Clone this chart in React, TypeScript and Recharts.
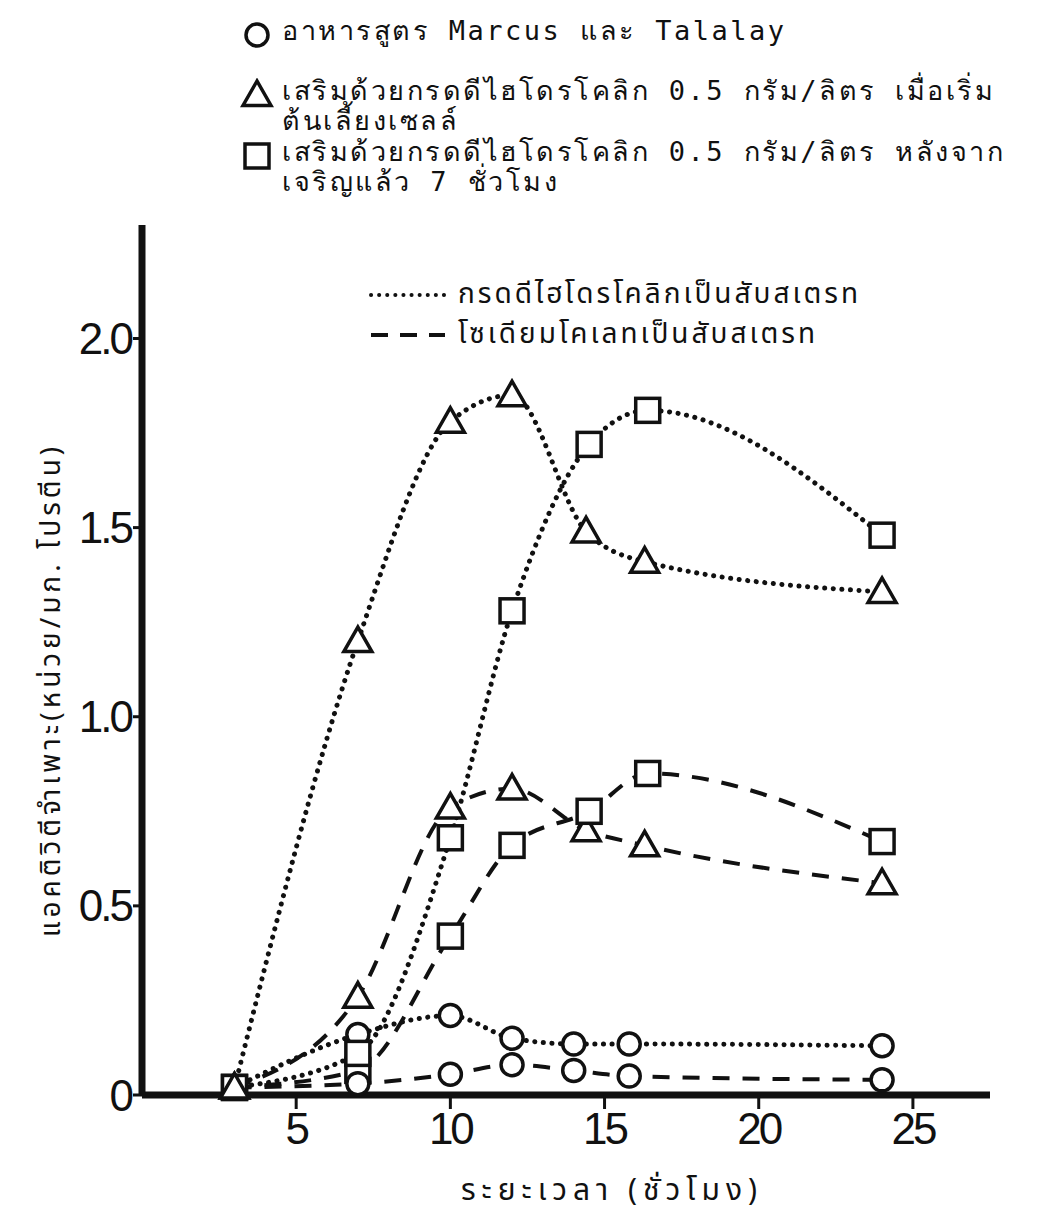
import React from 'react';
import { LineChart, Line, XAxis, YAxis } from 'recharts';

// Sampling times (hours) for each group of cultures
const circleHours = [3, 7, 10, 12, 14, 15.8, 24];
const triangleHours = [3, 7, 10, 12, 14.4, 16.3, 24];
const squareHours = [3, 7, 10, 12, 14.5, 16.4, 24];

// Specific activity (units/mg protein)
// ...with dehydrocholic acid as substrate (dotted)
const circleDehydro = [0.02, 0.16, 0.21, 0.15, 0.135, 0.135, 0.13];
const triangleDehydro = [0.02, 1.2, 1.78, 1.85, 1.49, 1.41, 1.33];
const squareDehydro = [0.02, 0.11, 0.68, 1.28, 1.72, 1.81, 1.48];
// ...with sodium cholate as substrate (dashed)
const circleCholate = [0.02, 0.03, 0.055, 0.08, 0.065, 0.05, 0.04];
const triangleCholate = [0.02, 0.26, 0.76, 0.81, 0.7, 0.66, 0.56];
const squareCholate = [0.02, 0.065, 0.42, 0.66, 0.75, 0.85, 0.67];

const xTicks = [5, 10, 15, 20, 25];
const yTicks = [0, 0.5, 1.0, 1.5, 2.0];

const mediumLabels = [
  ['อาหารสูตร Marcus และ Talalay'],
  ['เสริมด้วยกรดดีไฮโดรโคลิก 0.5 กรัม/ลิตร เมื่อเริ่ม', 'ต้นเลี้ยงเซลล์'],
  ['เสริมด้วยกรดดีไฮโดรโคลิก 0.5 กรัม/ลิตร หลังจาก', 'เจริญแล้ว 7 ชั่วโมง'],
];
const substrateLabels = ['กรดดีไฮโดรโคลิกเป็นสับสเตรท', 'โซเดียมโคเลทเป็นสับสเตรท'];
const xTitle = 'ระยะเวลา (ชั่วโมง)';
const yTitle = 'แอคติวิตีจำเพาะ(หน่วย/มก. โปรตีน)';

const zip = (hs: number[], vs: number[]) => hs.map((h, i) => ({ h, v: vs[i] }));

type Shape = 'circle' | 'triangle' | 'square';

const INK = '#111';
const DOTTED = '0.1 8.5';
const DASHED = '17 13';

const Marker = ({ shape, cx, cy }: { shape: Shape; cx: number; cy: number }) => {
  const sw = 3.5;
  if (shape === 'circle')
    return <circle cx={cx} cy={cy} r={11} fill="#fff" stroke={INK} strokeWidth={sw} />;
  if (shape === 'triangle') {
    const s = 14;
    const pts = `${cx},${cy - s} ${cx - s},${cy + s * 0.75} ${cx + s},${cy + s * 0.75}`;
    return <polygon points={pts} fill="#fff" stroke={INK} strokeWidth={sw} strokeLinejoin="miter" />;
  }
  return <rect x={cx - 12} y={cy - 12} width={24} height={24} fill="#fff" stroke={INK} strokeWidth={sw} />;
};

const dotFor = (shape: Shape, name: string) => (p: any) => (
  <Marker key={`${name}-${p.index}`} shape={shape} cx={p.cx} cy={p.cy} />
);

const series = [
  { name: 'tri-cholate', shape: 'triangle' as Shape, dash: DASHED, data: zip(triangleHours, triangleCholate) },
  { name: 'sq-cholate', shape: 'square' as Shape, dash: DASHED, data: zip(squareHours, squareCholate) },
  { name: 'circ-cholate', shape: 'circle' as Shape, dash: DASHED, data: zip(circleHours, circleCholate) },
  { name: 'circ-dehydro', shape: 'circle' as Shape, dash: DOTTED, data: zip(circleHours, circleDehydro) },
  { name: 'sq-dehydro', shape: 'square' as Shape, dash: DOTTED, data: zip(squareHours, squareDehydro) },
  { name: 'tri-dehydro', shape: 'triangle' as Shape, dash: DOTTED, data: zip(triangleHours, triangleDehydro) },
];

const tickFont = { fontFamily: '"Liberation Sans", Arial, sans-serif', fontSize: 44, fill: INK, letterSpacing: -3 };
const thaiFont = '"Noto Sans Thai", "Loma", "Garuda", "DejaVu Sans", sans-serif';
const typeFont = '"DejaVu Sans Mono", "Noto Sans Mono", monospace';

const LegendSymbol = ({ shape }: { shape: Shape }) => (
  <svg width={34} height={34} style={{ position: 'absolute', left: -42, top: 2 }}>
    <Marker shape={shape} cx={17} cy={17} />
  </svg>
);

export default function App() {
  return (
    <div style={{ position: 'absolute', left: 0, top: 0, width: 1064, height: 1228, background: '#fff', overflow: 'hidden' }}>
      <LineChart width={1064} height={1228} margin={{ top: 225, right: 74, bottom: 73, left: 2 }}>
        <XAxis
          dataKey="h"
          type="number"
          domain={[0, 27.5]}
          ticks={xTicks}
          allowDuplicatedCategory={false}
          height={60}
          axisLine={{ stroke: INK, strokeWidth: 7 }}
          tickLine={{ stroke: INK, strokeWidth: 3 }}
          tickSize={14}
          tickMargin={4}
          tick={tickFont}
          label={{
            content: () => (
              <text x={612} y={1200} textAnchor="middle" fontFamily={thaiFont} fontSize={30} letterSpacing={6} fill={INK}>
                {xTitle}
              </text>
            ),
          }}
        />
        <YAxis
          dataKey="v"
          type="number"
          domain={[0, 2.3]}
          ticks={yTicks}
          width={140}
          axisLine={{ stroke: INK, strokeWidth: 7 }}
          tickLine={{ stroke: INK, strokeWidth: 3 }}
          tickSize={9}
          tickMargin={2}
          tick={tickFont}
          tickFormatter={(v: number) => (v === 0 ? '0' : v.toFixed(1))}
          label={{
            content: () => (
              <text
                x={52}
                y={690}
                transform="rotate(-90 52 690)"
                textAnchor="middle"
                dominantBaseline="middle"
                fontFamily={thaiFont}
                fontSize={28}
                letterSpacing={4}
                fill={INK}
              >
                {yTitle}
              </text>
            ),
          }}
        />
        {series.map((s) => (
          <Line
            key={s.name}
            data={s.data}
            dataKey="v"
            type="monotone"
            stroke={INK}
            strokeWidth={s.dash === DOTTED ? 5 : 4}
            strokeLinecap={s.dash === DOTTED ? 'round' : 'butt'}
            strokeDasharray={s.dash}
            dot={dotFor(s.shape, s.name)}
            activeDot={false}
            isAnimationActive={false}
          />
        ))}
      </LineChart>

      {/* medium / supplementation key */}
      {mediumLabels.map((lines, i) => (
        <div
          key={i}
          style={{
            position: 'absolute',
            left: 282,
            top: [16, 76, 137][i],
            fontFamily: typeFont,
            fontSize: 27,
            letterSpacing: 2.5,
            lineHeight: '30px',
            color: INK,
            whiteSpace: 'nowrap',
          }}
        >
          <LegendSymbol shape={(['circle', 'triangle', 'square'] as Shape[])[i]} />
          {lines.map((l, j) => (
            <div key={j}>{l}</div>
          ))}
        </div>
      ))}

      {/* substrate key */}
      {substrateLabels.map((label, i) => (
        <div
          key={label}
          style={{
            position: 'absolute',
            left: 368,
            top: 280 + i * 40,
            height: 30,
            display: 'flex',
            alignItems: 'center',
            fontFamily: thaiFont,
            fontSize: 28,
            lineHeight: '30px',
            letterSpacing: 3,
            color: INK,
            whiteSpace: 'nowrap',
          }}
        >
          <svg width={80} height={20} style={{ marginRight: 10 }}>
            <line
              x1={3}
              y1={10}
              x2={77}
              y2={10}
              stroke={INK}
              strokeWidth={4}
              strokeLinecap={i === 0 ? 'round' : 'butt'}
              strokeDasharray={i === 0 ? '0.1 8' : '17 12'}
            />
          </svg>
          {label}
        </div>
      ))}
    </div>
  );
}
